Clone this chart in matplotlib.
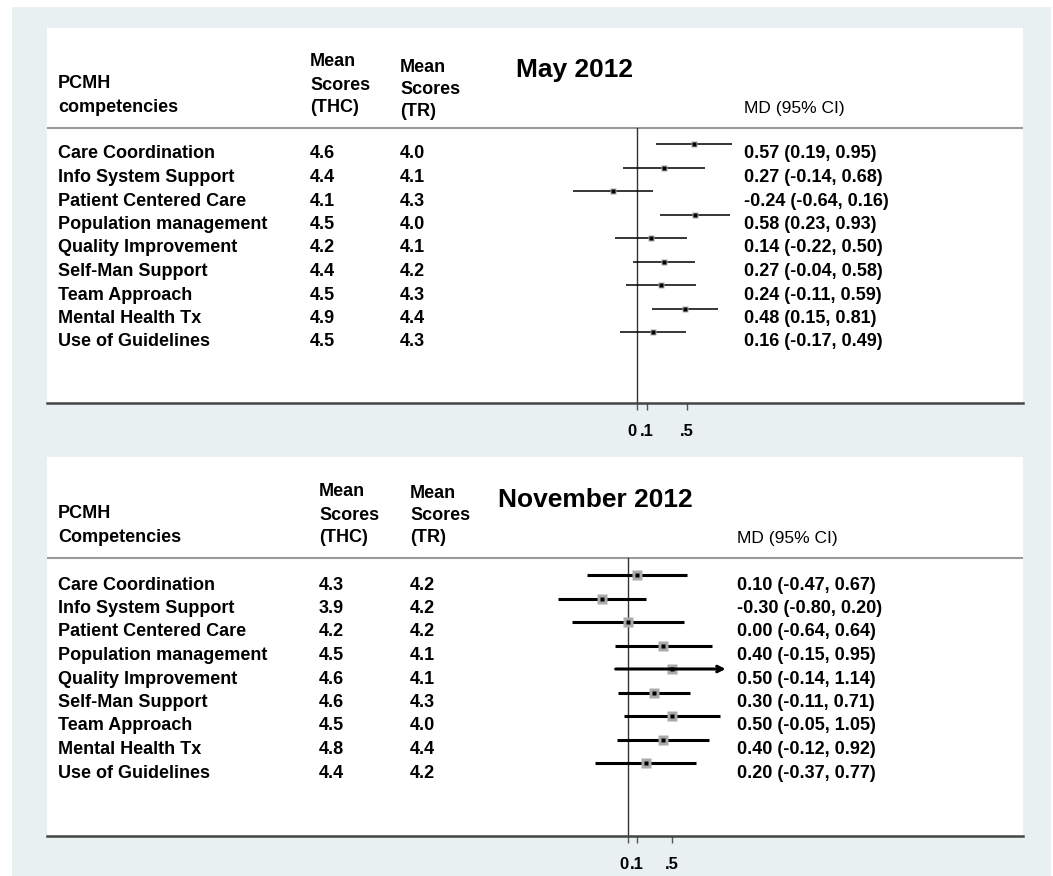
import matplotlib.pyplot as plt
from matplotlib.patches import Rectangle

competencies = ["Care Coordination", "Info System Support", "Patient Centered Care",
                "Population management", "Quality Improvement", "Self-Man Support",
                "Team Approach", "Mental Health Tx", "Use of Guidelines"]

# May 2012
may_thc = [4.6, 4.4, 4.1, 4.5, 4.2, 4.4, 4.5, 4.9, 4.5]
may_tr = [4.0, 4.1, 4.3, 4.0, 4.1, 4.2, 4.3, 4.4, 4.3]
may_md = [0.57, 0.27, -0.24, 0.58, 0.14, 0.27, 0.24, 0.48, 0.16]
may_lo = [0.19, -0.14, -0.64, 0.23, -0.22, -0.04, -0.11, 0.15, -0.17]
may_hi = [0.95, 0.68, 0.16, 0.93, 0.50, 0.58, 0.59, 0.81, 0.49]

# November 2012
nov_thc = [4.3, 3.9, 4.2, 4.5, 4.6, 4.6, 4.5, 4.8, 4.4]
nov_tr = [4.2, 4.2, 4.2, 4.1, 4.1, 4.3, 4.0, 4.4, 4.2]
nov_md = [0.10, -0.30, 0.00, 0.40, 0.50, 0.30, 0.50, 0.40, 0.20]
nov_lo = [-0.47, -0.80, -0.64, -0.15, -0.14, -0.11, -0.05, -0.12, -0.37]
nov_hi = [0.67, 0.20, 0.64, 0.95, 1.14, 0.71, 1.05, 0.92, 0.77]

xticks = [0, 0.1, 0.5]
xticklabels = ["0", ".1", ".5"]

W, H = 1053, 876
plt.rcParams['font.family'] = ['Liberation Sans', 'DejaVu Sans']

fig = plt.figure(figsize=(W / 100, H / 100), dpi=100)
fig.patch.set_facecolor('white')
bg = Rectangle((12 / W, 0), (1051 - 12) / W, (876 - 7) / H,
               transform=fig.transFigure, facecolor='#e8f0f2', edgecolor='none', zorder=-5)
fig.add_artist(bg)


def panel(top, bottom, zero_px, scale, row0_px, title, hdr, lab2, cols,
          thc, tr, md, lo, hi, thick, clip=None):
    left, right = 47, 1023
    ax = fig.add_axes([left / W, 1 - bottom / H, (right - left) / W, (bottom - top) / H])
    ax.set_facecolor('white')
    step = 23.5
    ax.set_xlim((left - zero_px) / scale, (right - zero_px) / scale)
    ax.set_ylim((bottom - row0_px) / step, (top - row0_px) / step)

    def fx(px):
        return (px - zero_px) / scale

    def fy(py):
        return (py - row0_px) / step

    for s in ['top', 'left', 'right']:
        ax.spines[s].set_visible(False)
    ax.spines['bottom'].set_color('#444444')
    ax.spines['bottom'].set_linewidth(1.8)
    ax.set_yticks([])
    ax.set_xticks(xticks)
    ax.set_xticklabels(xticklabels)
    ax.tick_params(axis='x', length=5, width=1, color='#555555', labelsize=12, pad=10)
    tl = ax.get_xticklabels()
    for t in tl:
        t.set_fontweight('bold')
    tl[0].set_ha('right')

    # header separator and zero line
    ax.axhline(fy(hdr), color='#999999', lw=1.5)
    ax.plot([0, 0], [fy(hdr), fy(bottom)], color='#333333', lw=1)

    tk = dict(fontsize=13, fontweight='bold', va='center', ha='left')
    ax.text(fx(58), fy(hdr - 44), "PCMH", **tk)
    ax.text(fx(58), fy(hdr - 20), lab2, **tk)
    ax.text(fx(cols[0]), fy(hdr - 66), "Mean", **tk)
    ax.text(fx(cols[0]), fy(hdr - 43), "Scores", **tk)
    ax.text(fx(cols[0]), fy(hdr - 20), "(THC)", **tk)
    ax.text(fx(cols[1]), fy(hdr - 65 + cols[3]), "Mean", **tk)
    ax.text(fx(cols[1]), fy(hdr - 43 + cols[3]), "Scores", **tk)
    ax.text(fx(cols[1]), fy(hdr - 20 + cols[3]), "(TR)", **tk)
    ax.text(fx(title[1]), fy(hdr - 58), title[0], fontsize=19, fontweight='bold',
            va='center', ha='left')
    ax.text(fx(cols[2]), fy(hdr - 20), "MD (95% CI)", fontsize=12.5,
            va='center', ha='left')

    for i in range(len(competencies)):
        ty = i + 10 / step
        ax.text(fx(58), ty, competencies[i], **tk)
        ax.text(fx(cols[0]), ty, f"{thc[i]:.1f}", **tk)
        ax.text(fx(cols[1]), ty, f"{tr[i]:.1f}", **tk)
        ax.text(fx(cols[2]), ty, f"{md[i]:.2f} ({lo[i]:.2f}, {hi[i]:.2f})", **tk)
        if clip is not None and hi[i] > clip:
            ax.annotate('', xy=(clip, i), xytext=(lo[i], i),
                        arrowprops=dict(arrowstyle='->', lw=thick, color='black',
                                        shrinkA=0, shrinkB=0))
        else:
            ax.plot([lo[i], hi[i]], [i, i], color='black', lw=thick, solid_capstyle='butt')
        ax.plot(md[i], i, marker='s', ms=7 if thick > 1.5 else 5, color='#aaaaaa',
                mec='none')
        ax.plot(md[i], i, marker='s', ms=3.5, color='black', mec='none')
    return ax


panel(28, 403, 637, 100, 144, ("May 2012", 516), 128, "competencies",
      (310, 400, 744, 4), may_thc, may_tr, may_md, may_lo, may_hi, 1.1)
panel(457, 836, 628, 88, 575, ("November 2012", 498), 558, "Competencies",
      (319, 410, 737, 0), nov_thc, nov_tr, nov_md, nov_lo, nov_hi, 2.2, clip=1.11)

fig.savefig("out.png", dpi=100, facecolor=fig.get_facecolor())
